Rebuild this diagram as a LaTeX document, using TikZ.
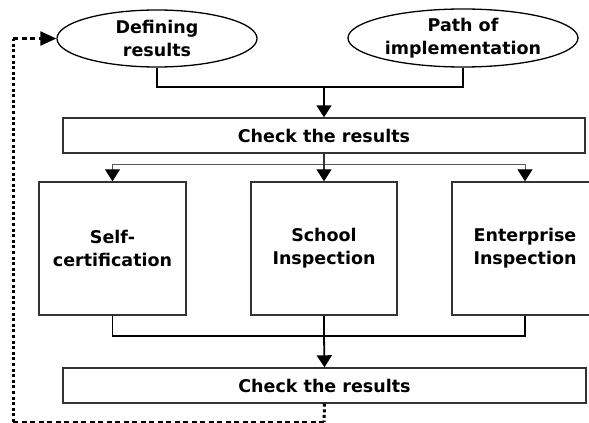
\documentclass[tikz,border=0pt]{standalone}
\usepackage{fontspec}
\setmainfont{DejaVu Sans}
\usetikzlibrary{arrows.meta,shapes.geometric}
\definecolor{boxline}{HTML}{333333}
\tikzset{
  every node/.style={font=\fontsize{17.5}{23}\selectfont\bfseries, align=center, inner sep=0pt},
  ell/.style={ellipse, draw=black, line width=1.3pt, fill=white},
  rbox/.style={rectangle, draw=boxline, line width=1.4pt, fill=white},
  conn/.style={draw=black, line width=1.8pt},
  thin/.style={draw=gray!70!black, line width=1pt},
  tip/.style={-{Triangle[width=15pt,length=12pt,color=black]}},
  dotv/.style={draw=black, line width=3pt, dash pattern=on 3pt off 2.6pt},
  dashh/.style={draw=black, line width=1.3pt, dash pattern=on 5pt off 3.5pt},
}
\begin{document}
\begin{tikzpicture}[x=1pt,y=-1pt]
\clip (0,0) rectangle (589,423);
\fill[white] (0,0) rectangle (589,423);
% ellipses
\node[ell, minimum width=200pt, minimum height=57pt] (def) at (157,38.5) {Defining\\results};
\node[ell, minimum width=230pt, minimum height=58pt] (path) at (463,38) {Path of\\implementation};
% first check box
\node[rbox, minimum width=522pt, minimum height=35pt] (chk1) at (324,135.5) {Check the results};
% three boxes
\node[rbox, minimum width=147pt, minimum height=133pt] (self) at (112.5,248.5) {Self-\\certification};
\node[rbox, minimum width=146pt, minimum height=133pt] (school) at (324,248.5) {School\\Inspection};
\node[rbox, minimum width=146pt, minimum height=133pt] (ent) at (525,248.5) {Enterprise\\Inspection};
% second check box
\node[rbox, minimum width=523pt, minimum height=35pt] (chk2) at (324.5,385.5) {Check the results};
% coordinates
\coordinate (j1) at (324,87);
\coordinate (sp) at (324,164);
% top connectors
\draw[conn] (def.south) |- (j1) -| (path.south);
\draw[conn, tip] (j1) -- (chk1.north);
% distribution
\draw[thin] (self.north |- sp) -- (ent.north |- sp);
\draw[draw=boxline, line width=1.3pt, tip] (chk1.south) -- (school.north);
\draw[thin, tip] (self.north |- sp) -- (self.north);
\draw[thin, tip] (ent.north |- sp) -- (ent.north);
% gathering
\coordinate (j2) at (324,336);
\draw[conn] (self.south) |- (j2) -| (ent.south);
\draw[conn] (school.south) -- (j2);
\draw[conn, tip] (j2) -- (chk2.north);
% feedback loop
\coordinate (f1) at (324,422);
\coordinate (f2) at (13,422);
\coordinate (f3) at (13,38.5);
\draw[dotv] (chk2.south) -- (f1);
\draw[dashh] (f1) -- (f2);
\draw[dotv] (f2) -- (f3);
\draw[dashh, line width=2.2pt, -{Triangle[width=14pt,length=16pt]}] (f3) -- (def.west);
\end{tikzpicture}
\end{document}
